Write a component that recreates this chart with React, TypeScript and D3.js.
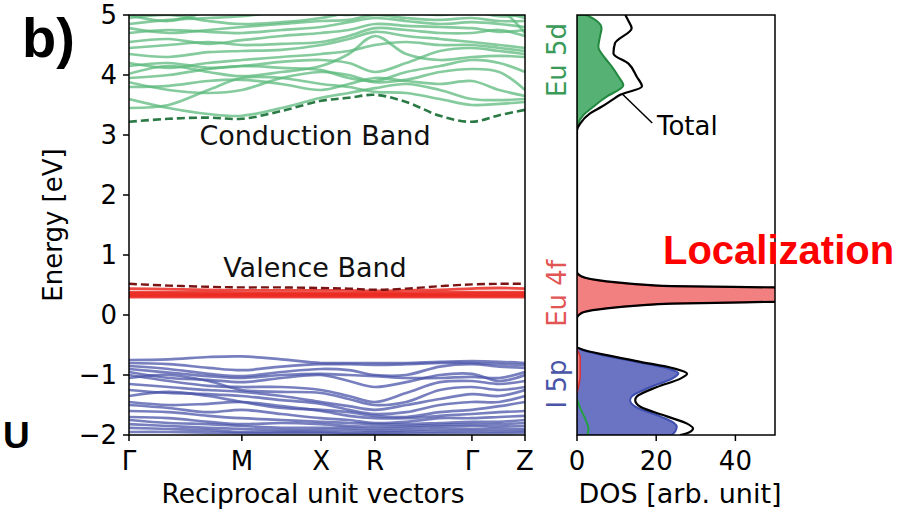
import * as d3 from "d3";
import React from "react";

// k-path sample positions (path length normalised to 10)
const kGrid = [0, 1.0, 2.0, 2.85, 3.85, 4.85, 5.55, 6.21, 7.0, 7.85, 8.66, 9.35, 10];
const kTickPos = [0, 2.85, 4.85, 6.21, 8.66, 10];
const kTickLabels = ["Γ", "M", "X", "R", "Γ", "Z"];
const energyTicks = [-2, -1, 0, 1, 2, 3, 4, 5];
const dosTicks = [0, 20, 40];

// Eu 5d conduction bands
const conductionMin = [3.22, 3.27, 3.29, 3.27, 3.4, 3.57, 3.62, 3.67, 3.55, 3.32, 3.22, 3.33, 3.42];
const conductionBands = [
  [3.45, 3.5, 3.75, 3.95, 3.95, 3.85, 3.8, 3.72, 3.7, 3.6, 3.5, 3.52, 3.55],
  [3.6, 3.45, 3.35, 3.32, 3.45, 3.62, 3.7, 3.78, 3.85, 3.75, 3.6, 3.58, 3.6],
  [3.8, 3.82, 3.9, 3.92, 3.85, 3.75, 3.85, 3.95, 3.9, 3.85, 3.9, 3.75, 3.65],
  [3.88, 3.75, 3.7, 3.75, 3.95, 4.05, 4.0, 3.88, 3.92, 4.05, 4.1, 4.05, 3.75],
  [3.95, 4.0, 4.1, 4.15, 4.12, 4.08, 3.95, 3.9, 4.05, 4.15, 4.25, 4.2, 4.05],
  [4.02, 4.15, 4.05, 3.98, 4.05, 4.15, 4.35, 4.65, 4.35, 4.25, 4.3, 4.32, 4.3],
  [4.15, 4.2, 4.12, 4.15, 4.22, 4.25, 4.2, 4.05, 4.2, 4.4, 4.45, 4.4, 4.35],
  [4.2, 4.12, 4.2, 4.25, 4.3, 4.35, 4.4, 4.5, 4.55, 4.5, 4.5, 4.45, 4.4],
  [4.35, 4.3, 4.38, 4.4, 4.42, 4.5, 4.6, 4.72, 4.65, 4.6, 4.55, 4.5, 4.45],
  [4.45, 4.5, 4.55, 4.5, 4.52, 4.55, 4.65, 4.78, 4.75, 4.7, 4.7, 4.75, 4.65],
  [4.55, 4.6, 4.52, 4.58, 4.65, 4.7, 4.75, 4.85, 4.82, 4.8, 4.78, 4.72, 4.75],
  [4.7, 4.75, 4.72, 4.7, 4.75, 4.8, 4.88, 4.95, 4.9, 4.85, 4.88, 4.85, 4.8],
  [4.78, 4.7, 4.75, 4.8, 4.85, 4.9, 4.92, 5.0, 4.95, 4.92, 4.95, 4.9, 4.9],
  [4.85, 4.92, 4.95, 4.98, 5.05, 5.05, 5.0, 5.08, 5.05, 5.0, 5.05, 4.98, 5.0],
  [4.95, 5.0, 4.9, 4.85, 4.88, 4.95, 5.05, 5.15, 5.1, 5.05, 5.1, 5.05, 4.95],
  [5.0, 4.9, 5.05, 5.1, 5.15, 5.1, 5.1, 5.2, 5.15, 5.15, 5.2, 5.1, 4.7],
];

// Eu 4f valence bands
const valenceMax = [0.52, 0.49, 0.47, 0.46, 0.46, 0.45, 0.44, 0.42, 0.44, 0.48, 0.51, 0.52, 0.52];
const valenceBands = [
  [0.44, 0.43, 0.42, 0.41, 0.41, 0.41, 0.41, 0.4, 0.41, 0.42, 0.44, 0.45, 0.44],
  [0.38, 0.38, 0.38, 0.37, 0.37, 0.37, 0.37, 0.37, 0.37, 0.38, 0.38, 0.38, 0.38],
  [0.36, 0.36, 0.35, 0.35, 0.35, 0.35, 0.35, 0.35, 0.35, 0.35, 0.36, 0.36, 0.36],
  [0.34, 0.34, 0.34, 0.34, 0.34, 0.34, 0.34, 0.34, 0.34, 0.34, 0.34, 0.34, 0.34],
  [0.32, 0.32, 0.32, 0.32, 0.32, 0.32, 0.32, 0.32, 0.32, 0.32, 0.32, 0.32, 0.32],
  [0.3, 0.3, 0.3, 0.3, 0.3, 0.3, 0.3, 0.3, 0.3, 0.3, 0.3, 0.3, 0.3],
];

// I 5p bands
const iodineBands = [
  [-0.75, -0.74, -0.7, -0.69, -0.74, -0.8, -0.8, -0.8, -0.8, -0.78, -0.77, -0.78, -0.8],
  [-0.8, -0.82, -0.88, -0.92, -0.86, -0.82, -0.82, -0.83, -0.82, -0.8, -0.8, -0.82, -0.83],
  [-0.85, -0.9, -0.98, -1.02, -0.95, -0.9, -0.92, -1.0, -1.0, -0.86, -0.82, -0.86, -0.88],
  [-0.9, -0.96, -1.02, -1.05, -1.0, -0.98, -1.0, -1.02, -1.05, -1.05, -1.03, -1.05, -0.95],
  [-0.95, -1.05, -1.08, -1.12, -1.05, -1.0, -1.1, -1.2, -1.12, -1.0, -0.98, -1.1, -1.0],
  [-1.0, -1.1, -1.18, -1.2, -1.2, -1.25, -1.35, -1.45, -1.3, -1.12, -1.1, -1.15, -1.1],
  [-1.05, -1.0, -1.1, -1.25, -1.28, -1.3, -1.4, -1.5, -1.45, -1.25, -1.2, -1.25, -1.2],
  [-1.15, -1.2, -1.25, -1.28, -1.35, -1.45, -1.52, -1.58, -1.5, -1.4, -1.32, -1.35, -1.25],
  [-1.25, -1.3, -1.32, -1.35, -1.42, -1.48, -1.58, -1.65, -1.62, -1.5, -1.45, -1.45, -1.35],
  [-1.35, -1.28, -1.35, -1.45, -1.55, -1.58, -1.62, -1.68, -1.7, -1.62, -1.58, -1.52, -1.45],
  [-1.45, -1.5, -1.48, -1.45, -1.52, -1.6, -1.68, -1.72, -1.72, -1.68, -1.65, -1.62, -1.6],
  [-1.5, -1.55, -1.62, -1.58, -1.65, -1.72, -1.75, -1.8, -1.78, -1.72, -1.72, -1.7, -1.68],
  [-1.6, -1.62, -1.68, -1.72, -1.75, -1.78, -1.8, -1.82, -1.82, -1.8, -1.78, -1.78, -1.75],
  [-1.7, -1.72, -1.78, -1.82, -1.8, -1.82, -1.85, -1.86, -1.85, -1.83, -1.82, -1.82, -1.8],
  [-1.75, -1.8, -1.82, -1.85, -1.88, -1.88, -1.88, -1.9, -1.88, -1.86, -1.85, -1.86, -1.85],
  [-1.82, -1.85, -1.88, -1.9, -1.92, -1.92, -1.92, -1.93, -1.92, -1.9, -1.9, -1.9, -1.9],
  [-1.88, -1.9, -1.92, -1.95, -1.95, -1.95, -1.96, -1.96, -1.95, -1.94, -1.93, -1.94, -1.93],
  [-1.95, -1.95, -1.96, -1.97, -1.97, -1.97, -1.98, -1.98, -1.98, -1.97, -1.97, -1.97, -1.96],
];

// DOS curves: [energy, dos]
const dosTotal: [number, number][] = [
  [-2.0, 26], [-1.97, 27.8], [-1.89, 29.3], [-1.81, 27.8], [-1.69, 22.7], [-1.53, 16], [-1.42, 14.7],
  [-1.36, 15.1], [-1.2, 20.2], [-1.06, 26.1], [-0.98, 27.8], [-0.89, 24.4], [-0.78, 16], [-0.67, 7.5],
  [-0.58, 1.5], [-0.53, 0], [-0.05, 0], [0.0, 0.5], [0.05, 1.8], [0.11, 7.5], [0.16, 16], [0.19, 24],
  [0.22, 50], [0.26, 90], [0.34, 120], [0.42, 90], [0.46, 50], [0.48, 24], [0.52, 14], [0.56, 7.5],
  [0.64, 1.2], [0.72, 0], [3.08, 0], [3.19, 0.8], [3.36, 3.3], [3.47, 6.2], [3.58, 8.8], [3.67, 10.9],
  [3.81, 16.4], [3.97, 15.1], [4.19, 13.0], [4.36, 9.2], [4.53, 9.6], [4.78, 13.8], [4.9, 13], [5.0, 12.2],
];
const dosEu5d: [number, number][] = [
  [3.08, 0], [3.19, 0.3], [3.33, 1.6], [3.47, 4.1], [3.58, 6.2], [3.64, 7.5], [3.83, 11.7], [3.97, 10.5],
  [4.14, 8.8], [4.28, 7.1], [4.47, 5.4], [4.64, 5.8], [4.78, 6.2], [4.92, 4.6], [5.0, 2.4],
];
const dosEu4f: [number, number][] = [
  [-1.3, 0], [-1.0, 0.8], [-0.7, 0.8], [-0.55, 0], [-0.04, 0], [0.0, 0.3], [0.05, 1.5], [0.11, 7],
  [0.16, 15], [0.19, 23], [0.22, 48], [0.26, 88], [0.34, 118], [0.42, 88], [0.46, 48], [0.48, 23],
  [0.52, 13], [0.56, 7], [0.64, 1], [0.71, 0],
];
const dosI5p: [number, number][] = [
  [-2.0, 24], [-1.94, 24.8], [-1.86, 25.2], [-1.8, 24.5], [-1.69, 21], [-1.53, 14.8], [-1.42, 13.4],
  [-1.36, 13.8], [-1.2, 18.6], [-1.06, 24], [-0.97, 25.6], [-0.89, 22.8], [-0.78, 14.8], [-0.67, 6.5],
  [-0.58, 1.2], [-0.54, 0], [0.1, 0], [0.22, 1.5], [0.33, 2.9], [0.45, 1.5], [0.6, 0], [3.2, 0],
  [3.35, 0.8], [5.0, 0.9],
];
const dosEu5dLow: [number, number][] = [
  [-2.0, 2.6], [-1.9, 2.9], [-1.75, 2.2], [-1.55, 0.8], [-1.4, 0],
];

const W = 912;
const H = 512;
const bandBox = { left: 129, right: 525, top: 15, bottom: 435 };
const dosBox = { left: 577, right: 775, top: 15, bottom: 435 };
const font = "DejaVu Sans, sans-serif";

export default function App() {
  const x = d3.scaleLinear().domain([0, 10]).range([bandBox.left, bandBox.right]);
  const y = d3.scaleLinear().domain([-2, 5]).range([bandBox.bottom, bandBox.top]);
  const xd = d3.scaleLinear().domain([0, 50]).range([dosBox.left, dosBox.right]);

  const band = d3
    .line<number>()
    .x((_, i) => x(kGrid[i]))
    .y((e) => y(e))
    .curve(d3.curveCatmullRom);

  const dosArea = d3
    .area<[number, number]>()
    .y((d) => y(d[0]))
    .x0(xd(0))
    .x1((d) => xd(d[1]))
    .curve(d3.curveMonotoneY);
  const dosLine = d3
    .line<[number, number]>()
    .y((d) => y(d[0]))
    .x((d) => xd(d[1]))
    .curve(d3.curveMonotoneY);

  const pw = bandBox.right - bandBox.left;
  const ph = bandBox.bottom - bandBox.top;
  const dw = dosBox.right - dosBox.left;

  return (
    <svg width={W} height={H} style={{ position: "absolute", left: 0, top: 0, background: "#fff" }} fontFamily={font}>
      <defs>
        <clipPath id="bandClip">
          <rect x={bandBox.left} y={bandBox.top} width={pw} height={ph} />
        </clipPath>
        <clipPath id="dosClip">
          <rect x={dosBox.left} y={dosBox.top} width={dw} height={ph} />
        </clipPath>
      </defs>

      {/* band structure */}
      <g clipPath="url(#bandClip)" fill="none">
        {conductionBands.map((b, i) => (
          <path key={"c" + i} d={band(b) ?? ""} stroke="#5cb97c" strokeOpacity={0.75} strokeWidth={2.7} />
        ))}
        <path d={band(conductionMin) ?? ""} stroke="#2b7a45" strokeWidth={2.6} strokeDasharray="8,4" />
        {iodineBands.map((b, i) => (
          <path key={"i" + i} d={band(b) ?? ""} stroke="#4a54a8" strokeOpacity={0.75} strokeWidth={2.7} />
        ))}
        {valenceBands.map((b, i) => (
          <path key={"v" + i} d={band(b) ?? ""} stroke="#ea2a22" strokeOpacity={0.85} strokeWidth={2.8} />
        ))}
        <path d={band(valenceMax) ?? ""} stroke="#7a1414" strokeWidth={2.4} strokeDasharray="8,4" />
      </g>
      <rect x={bandBox.left} y={bandBox.top} width={pw} height={ph} fill="none" stroke="#000" strokeWidth={1.5} />

      {energyTicks.map((t) => (
        <g key={"et" + t}>
          <line x1={bandBox.left - 6} x2={bandBox.left} y1={y(t)} y2={y(t)} stroke="#000" strokeWidth={1.5} />
          <text x={bandBox.left - 12} y={y(t)} dy="0.36em" textAnchor="end" fontSize={26}>
            {t < 0 ? "\u2212" + Math.abs(t) : t}
          </text>
        </g>
      ))}
      {kTickPos.map((k, i) => (
        <g key={"kt" + i}>
          <line x1={x(k)} x2={x(k)} y1={bandBox.bottom} y2={bandBox.bottom + 6} stroke="#000" strokeWidth={1.5} />
          <text x={x(k)} y={470} textAnchor="middle" fontSize={26}>
            {kTickLabels[i]}
          </text>
        </g>
      ))}
      <text x={313} y={503} textAnchor="middle" fontSize={26.5}>
        Reciprocal unit vectors
      </text>
      <text transform={`translate(62,${(bandBox.top + bandBox.bottom) / 2}) rotate(-90)`} textAnchor="middle" fontSize={26}>
        Energy [eV]
      </text>
      <text x={315} y={145} textAnchor="middle" fontSize={27} fill="#111">
        Conduction Band
      </text>
      <text x={315} y={277} textAnchor="middle" fontSize={27} fill="#111">
        Valence Band
      </text>

      {/* DOS panel */}
      <g clipPath="url(#dosClip)">
        <path d={dosArea(dosI5p) ?? ""} fill="#6b74c3" stroke="#3f4fb0" strokeWidth={2} />
        <path d={dosArea(dosEu4f) ?? ""} fill="#f28080" stroke="#e03030" strokeWidth={1.5} />
        <path d={dosArea(dosEu5d) ?? ""} fill="#55b274" stroke="#23883f" strokeWidth={2} />
        <path d={dosLine(dosEu5dLow) ?? ""} fill="none" stroke="#23a040" strokeWidth={2} />
        <path d={dosLine(dosTotal) ?? ""} fill="none" stroke="#000" strokeWidth={2.2} />
      </g>
      <rect x={dosBox.left} y={dosBox.top} width={dw} height={ph} fill="none" stroke="#000" strokeWidth={1.5} />
      {dosTicks.map((t) => (
        <g key={"dt" + t}>
          <line x1={xd(t)} x2={xd(t)} y1={dosBox.bottom} y2={dosBox.bottom + 6} stroke="#000" strokeWidth={1.5} />
          <text x={xd(t)} y={470} textAnchor="middle" fontSize={26}>
            {t}
          </text>
        </g>
      ))}
      <text x={680} y={503} textAnchor="middle" fontSize={27}>
        DOS [arb. unit]
      </text>
      <text transform={`translate(566,${y(4.25)}) rotate(-90)`} textAnchor="middle" fontSize={26} fill="#3a9a58">
        Eu 5d
      </text>
      <text transform={`translate(566,${y(0.36)}) rotate(-90)`} textAnchor="middle" fontSize={26} fill="#e25555">
        Eu 4f
      </text>
      <text transform={`translate(566,${y(-1.15)}) rotate(-90)`} textAnchor="middle" fontSize={26} fill="#4a55a8">
        I 5p
      </text>
      <line x1={xd(11.5)} y1={y(3.68)} x2={xd(19)} y2={y(3.2)} stroke="#000" strokeWidth={1.5} />
      <text x={657} y={135} fontSize={26}>
        Total
      </text>

      {/* overlay labels */}
      <text x={22} y={57} fontFamily="Liberation Sans, Arial, sans-serif" fontWeight="bold" fontSize={56}>
        b)
      </text>
      <text x={3} y={448} fontFamily="Liberation Sans, Arial, sans-serif" fontWeight="bold" fontSize={37}>
        U
      </text>
      <text x={663} y={264} fontFamily="Liberation Sans, Arial, sans-serif" fontWeight="bold" fontSize={40} fill="#ff0000">
        Localization
      </text>
    </svg>
  );
}
